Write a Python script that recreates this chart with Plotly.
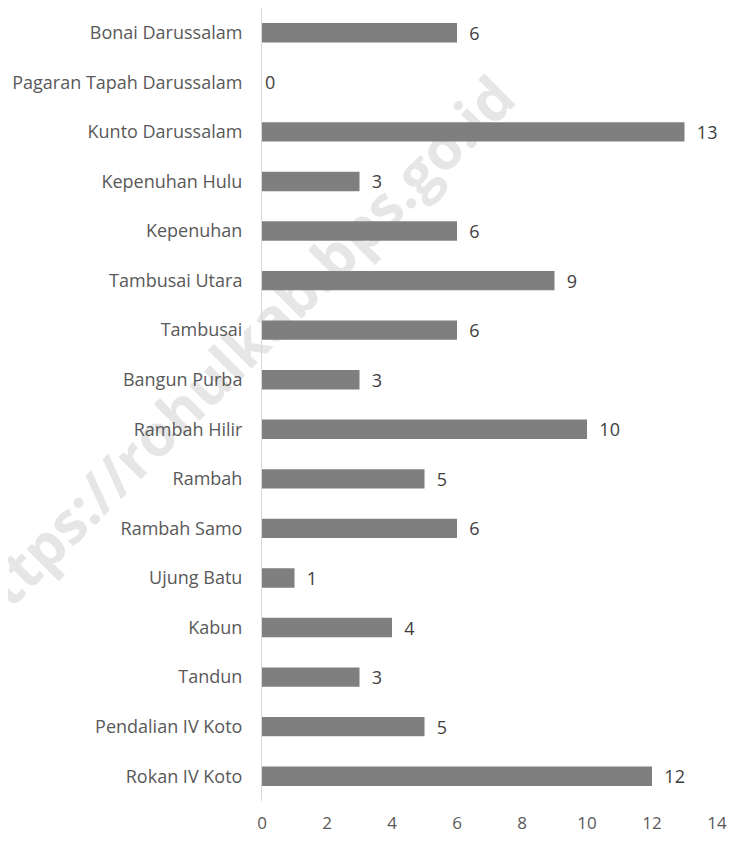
import plotly.graph_objects as go

kecamatan = [
    "Rokan IV Koto",
    "Pendalian IV Koto",
    "Tandun",
    "Kabun",
    "Ujung Batu",
    "Rambah Samo",
    "Rambah",
    "Rambah Hilir",
    "Bangun Purba",
    "Tambusai",
    "Tambusai Utara",
    "Kepenuhan",
    "Kepenuhan Hulu",
    "Kunto Darussalam",
    "Pagaran Tapah Darussalam",
    "Bonai Darussalam",
]
jumlah = [12, 5, 3, 4, 1, 6, 5, 10, 3, 6, 9, 6, 3, 13, 0, 6]
x_ticks = [0, 2, 4, 6, 8, 10, 12, 14]

# value labels sit a bit away from the bar end, except the empty bar
label_text = [("  " if v > 0 else "") + str(v) for v in jumlah]

fig = go.Figure(
    go.Bar(
        x=jumlah,
        y=kecamatan,
        orientation="h",
        marker={"color": "#7f7f7f", "line": {"width": 0}},
        width=0.39,
        text=label_text,
        textposition="outside",
        constraintext="none",
        cliponaxis=False,
        textfont={"family": "Open Sans", "size": 18, "color": "#404040"},
    )
)

# watermark behind the bars
fig.add_shape(
    type="rect",
    xref="paper",
    yref="paper",
    x0=-0.058,
    x1=-0.048,
    y0=0.5585,
    y1=0.5635,
    layer="below",
    line={"width": 0},
    fillcolor="rgba(0,0,0,0)",
    label={
        "text": "https://rohulkab.bps.go.id",
        "textangle": -45,
        "textposition": "middle center",
        "font": {"family": "Open Sans", "size": 58, "color": "#e6e6e6", "weight": "bold"},
    },
)

# the page body has an 8px margin, so the figure is kept 16px smaller
fig.update_layout(
    width=719,
    height=826,
    margin={"l": 254, "r": 8, "t": 0, "b": 27},
    paper_bgcolor="white",
    plot_bgcolor="white",
    showlegend=False,
    font={"family": "Open Sans", "size": 18, "color": "#595959"},
)
fig.update_xaxes(
    range=[0, 14],
    tickvals=x_ticks,
    showgrid=False,
    zeroline=False,
    showline=False,
    ticks="",
    ticklabelstandoff=10,
    ticklabeloverflow="allow",
    tickfont={"size": 17, "color": "#595959"},
)
fig.update_yaxes(
    categoryorder="array",
    categoryarray=kecamatan,
    showgrid=False,
    showline=True,
    linecolor="#d9d9d9",
    linewidth=1,
    ticks="",
    ticklabelstandoff=15,
    tickfont={"size": 18, "color": "#595959"},
)

fig.write_html("out.html")
